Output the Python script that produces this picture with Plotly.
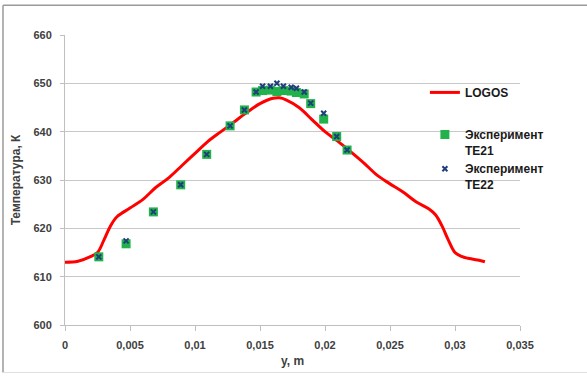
import plotly.graph_objects as go

# LOGOS calculation
logos_x = [0, 0.001, 0.002, 0.0025, 0.003, 0.0035, 0.004, 0.005, 0.006, 0.007, 0.008, 0.009,
           0.010, 0.011, 0.012, 0.013, 0.014, 0.015, 0.016, 0.0165, 0.017, 0.018, 0.019, 0.020,
           0.021, 0.022, 0.023, 0.024, 0.025, 0.026, 0.027, 0.028, 0.0285, 0.029, 0.0295, 0.030,
           0.0305, 0.031, 0.032, 0.0323]
logos_y = [613, 613.2, 614.2, 615, 617.6, 620.5, 622.4, 624.2, 626, 628.5, 630.5, 633,
           635.5, 638, 640, 642, 644, 645.8, 646.9, 647, 646.6, 645, 642.5, 640,
           638, 635.8, 633.5, 631, 629.2, 627.5, 625.5, 624, 622.8, 620.5, 617.5, 615,
           614.2, 613.8, 613.3, 613.1]

# Experiments
exp_x = [0.0026, 0.0047, 0.0068, 0.0089, 0.0109, 0.0127, 0.0138, 0.0147, 0.0152, 0.0158,
         0.0163, 0.0168, 0.0174, 0.0178, 0.0184, 0.0189, 0.0199, 0.0209, 0.0217]
te21_y = [614.1, 616.8, 623.4, 629.0, 635.3, 641.2, 644.5, 648.2, 648.5, 648.6,
          648.3, 648.5, 648.4, 648.1, 647.8, 645.8, 642.6, 639.0, 636.2]
te22_y = [614.1, 617.4, 623.4, 629.0, 635.3, 641.2, 644.5, 648.2, 649.4, 649.4,
          650.0, 649.4, 649.2, 649.0, 648.2, 645.9, 643.8, 639.0, 636.2]

x_ticks = [0, 0.005, 0.01, 0.015, 0.02, 0.025, 0.03, 0.035]
x_labels = ["0", "0,005", "0,01", "0,015", "0,02", "0,025", "0,03", "0,035"]
y_ticks = [600, 610, 620, 630, 640, 650, 660]

font_family = "Liberation Sans"
txt = "#404040"
tickfont = dict(family=font_family, size=11, color=txt, weight="bold")
legfont = dict(family=font_family, size=12, color="#1a1a1a", weight="bold")

fig = go.Figure()
fig.add_trace(go.Scatter(x=logos_x, y=logos_y, mode="lines", name="LOGOS",
                         line=dict(color="#FF0000", width=3, shape="spline"),
                         legend="legend"))
fig.add_trace(go.Scatter(x=exp_x, y=te21_y, mode="markers", name="Эксперимент<br>TE21",
                         marker=dict(symbol="square", size=9, color="#22B24C"),
                         legend="legend2"))
fig.add_trace(go.Scatter(x=exp_x, y=te22_y, mode="markers", name="Эксперимент<br>TE22",
                         marker=dict(symbol="x-thin", size=5, color="#1F3E7A",
                                     line=dict(width=2, color="#1F3E7A")),
                         legend="legend2"))

fig.update_layout(
    width=587, height=378,
    margin=dict(l=65, r=67, t=35, b=50),
    paper_bgcolor="white", plot_bgcolor="white",
    font=dict(family=font_family, size=11, color=txt),
    showlegend=True,
    legend=dict(x=0.791, y=(328 - 93) / 293, xanchor="left", yanchor="middle",
                font=legfont, bgcolor="rgba(0,0,0,0)", itemwidth=30),
    legend2=dict(x=0.791, y=(328 - 161) / 293, xanchor="left", yanchor="middle",
                 font=legfont, bgcolor="rgba(0,0,0,0)", itemwidth=30, tracegroupgap=2,
                 valign="top"),
    xaxis=dict(range=[0, 0.035], tickvals=x_ticks, ticktext=x_labels,
               showgrid=False, zeroline=False, showline=True, linecolor="#BFBFBF",
               linewidth=1, ticks="outside", ticklen=5, tickcolor="#BFBFBF",
               ticklabelstandoff=5, tickfont=tickfont,
               title=dict(text="<b>y, m</b>", font=dict(size=12, color=txt), standoff=6)),
    yaxis=dict(range=[600, 660], tickvals=y_ticks,
               showgrid=True, gridcolor="#C8C8C8", gridwidth=1, zeroline=False,
               showline=True, linecolor="#BFBFBF", linewidth=1,
               ticks="outside", ticklen=4, tickcolor="#BFBFBF",
               ticklabelstandoff=6, tickfont=tickfont,
               title=dict(text="<b>Температура, К</b>", font=dict(size=12, color=txt), standoff=10)),
)

# outer chart frame (left and top edges visible, faint bottom)
fig.add_shape(type="line", xref="paper", yref="paper",
              x0=(3 - 65) / 455, x1=(3 - 65) / 455, y0=(328 - 376) / 293, y1=(328 - 5) / 293,
              line=dict(color="#9A9A9A", width=1.5))
fig.add_shape(type="line", xref="paper", yref="paper",
              x0=(3 - 65) / 455, x1=(587 - 65) / 455, y0=(328 - 5) / 293, y1=(328 - 5) / 293,
              line=dict(color="#9A9A9A", width=1.5))
fig.add_shape(type="line", xref="paper", yref="paper",
              x0=(3 - 65) / 455, x1=(587 - 65) / 455, y0=(328 - 376) / 293, y1=(328 - 376) / 293,
              line=dict(color="#E0E0E0", width=1))

fig.write_html("out.html", config={"displayModeBar": False},
               post_script="document.body.style.margin='0';")
